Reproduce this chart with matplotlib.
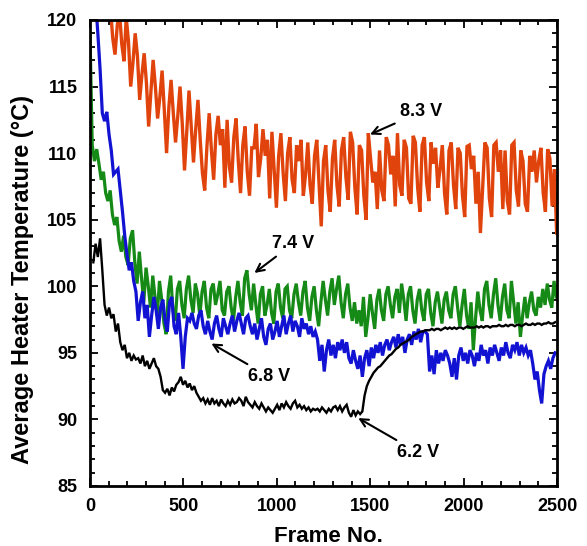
import numpy as np
import matplotlib
matplotlib.use("Agg")
import matplotlib.pyplot as plt
from matplotlib.ticker import MultipleLocator

plt.rcParams['font.family'] = ['Liberation Sans', 'DejaVu Sans']
plt.rcParams['font.weight'] = 'bold'

# Sampling interval (frames) shared by all recordings
STEP = 12

# 8.3 V run, first sample at frame 110
start_83 = 110
temp_83 = [
    120.8, 118.6, 117.4, 119.6, 120.6, 118.2, 116.9, 120.2,
    118.4, 115.0, 116.8, 119.0, 117.3, 114.0, 115.9, 117.5,
    115.3, 112.0, 114.6, 117.0, 115.0, 112.6, 114.2, 116.2,
    113.2, 110.0, 113.4, 115.5, 113.0, 110.8, 112.8, 115.0,
    112.2, 108.7, 111.6, 114.7, 112.0, 109.3, 111.8, 114.0,
    111.0, 108.5, 107.2, 110.5, 113.0, 110.2, 108.0, 111.4,
    112.8, 110.6, 111.8, 107.4, 112.5, 109.0, 107.8, 111.2,
    112.6, 109.4, 107.0, 110.6, 112.0, 108.6, 106.8, 110.4,
    110.4, 112.2, 108.2, 109.6, 111.8, 109.8, 111.0, 106.6,
    111.6, 108.8, 105.9, 109.8, 111.5, 108.5, 106.4, 110.0,
    111.2, 108.0, 107.0, 110.6, 109.4, 111.0, 106.8, 108.4,
    110.8, 107.6, 106.2, 109.8, 111.0, 107.8, 104.5, 109.4,
    110.6, 107.2, 105.6, 109.6, 111.0, 107.6, 106.0, 110.2,
    111.2, 108.2, 106.5, 111.6, 110.8, 107.4, 105.4, 110.6,
    110.2, 106.8, 105.0, 111.5, 109.6, 107.8, 108.6, 105.8,
    110.2, 107.2, 106.4, 111.2, 110.6, 108.4, 109.8, 106.0,
    111.5, 107.6, 106.8, 111.0, 110.4, 106.6, 106.2, 111.3,
    110.8, 107.4, 105.6, 110.6, 111.2, 107.8, 106.4, 110.8,
    109.2, 110.4, 107.4, 108.8, 110.6, 107.0, 105.4, 110.2,
    110.8, 107.6, 105.8, 110.4, 110.0, 106.8, 105.2, 110.5,
    110.6, 108.8, 109.8, 106.2, 108.6, 104.0, 107.4, 110.8,
    110.4, 106.6, 105.2, 110.6, 110.8, 108.6, 110.2, 105.8,
    110.2, 106.4, 105.4, 110.6, 110.8, 107.2, 106.0, 110.2,
    109.4, 106.2, 105.6, 109.8, 108.6, 110.2, 107.8, 109.4,
    110.4, 107.0, 105.6, 110.3, 109.6, 106.0, 108.8, 104.0,
]

# 7.4 V run, first sample at frame 0
start_74 = 0
temp_74 = [
    119.0, 110.6, 109.4, 110.3, 109.2, 108.0, 108.6, 107.0, 106.4, 107.2,
    105.4, 104.6, 105.2, 103.4, 102.6, 103.8, 102.2, 101.6, 103.6, 104.2,
    101.8, 100.2, 102.6, 100.6, 98.8, 101.4, 100.0, 98.4, 100.8, 99.2,
    97.8, 100.4, 99.0, 97.2, 96.4, 99.6, 100.8, 98.2, 97.4, 99.8,
    100.4, 98.6, 97.6, 99.8, 100.8, 99.0, 98.0, 100.2, 99.4, 97.8,
    99.6, 100.4, 98.4, 97.6, 99.8, 100.2, 98.6, 99.4, 100.4, 98.2,
    97.8, 99.6, 100.0, 98.4, 97.4, 99.2, 100.4, 98.8, 97.8, 100.6,
    101.2, 99.4, 98.2, 100.2, 98.6, 97.2, 99.4, 100.0, 97.8, 98.6,
    99.8, 98.0, 97.2, 99.6, 100.2, 98.4, 97.6, 99.8, 100.0, 98.2,
    97.6, 99.4, 100.2, 98.8, 97.8, 99.6, 100.4, 98.4, 97.4, 99.2,
    100.0, 98.2, 97.0, 98.8, 100.4, 99.0, 97.8, 99.6, 100.6, 98.6,
    99.8, 100.8, 98.8, 97.6, 99.4, 100.2, 98.4, 97.4, 98.8, 97.2,
    98.2, 97.0, 99.2, 96.2, 97.6, 99.4, 98.0, 96.8, 99.0, 99.8,
    98.2, 97.4, 99.4, 100.0, 98.6, 97.6, 99.2, 99.8, 98.0, 100.2,
    99.0, 97.4, 99.4, 100.0, 98.2, 97.2, 99.0, 99.8, 98.2, 97.4,
    99.4, 99.8, 98.0, 97.0, 98.8, 99.6, 98.4, 97.2, 99.0, 99.6,
    98.2, 97.6, 99.4, 100.0, 98.4, 97.0, 98.6, 99.8, 97.8, 96.8,
    98.8, 95.2, 97.6, 99.6, 98.2, 97.4, 99.8, 100.4, 98.6, 97.6,
    99.4, 100.6, 98.6, 97.4, 99.2, 100.2, 98.2, 97.6, 100.4, 98.8,
    97.2, 98.8, 96.2, 97.8, 99.2, 97.6, 98.8, 99.6, 98.2, 97.8,
    99.2, 98.4, 99.8, 98.6, 100.2, 99.0, 98.4, 100.4, 99.2,
]

# 6.8 V run, first sample at frame 30
start_68 = 30
temp_68 = [
    121.5, 119.0, 116.3, 113.0, 112.4, 113.1, 111.4, 110.2, 108.4, 108.6,
    108.8, 107.2, 105.6, 103.8, 102.4, 101.2, 101.8, 100.4, 99.6, 97.4,
    98.8, 99.6, 97.6, 98.6, 96.2, 97.8, 99.2, 98.2, 96.8, 98.4,
    99.0, 97.4, 96.6, 98.8, 99.2, 97.0, 96.4, 98.0, 96.2, 93.8,
    96.2, 97.6, 97.4, 98.0, 97.2, 96.8, 97.8, 98.2, 97.0, 96.4,
    97.4, 96.6, 96.0, 97.2, 97.8, 96.8, 96.2, 97.6, 97.0, 96.4,
    97.2, 97.8, 96.6, 97.4, 98.0, 97.2, 96.4, 97.6, 97.8, 97.0,
    96.4, 97.2, 96.0, 96.8, 97.6, 96.2, 95.6, 96.8, 97.2, 96.0,
    96.6, 97.4, 96.2, 97.0, 97.8, 96.4, 97.2, 97.8, 96.6, 97.4,
    97.0, 96.2, 97.6, 96.8, 97.2, 96.4, 97.0, 96.2, 96.6, 96.0,
    94.4, 95.6, 93.6, 95.2, 96.0, 94.8, 95.6, 94.6, 95.8, 95.2,
    96.0, 95.0, 95.8, 94.6, 94.2, 95.2, 94.4, 93.8, 94.8, 93.2,
    94.6, 95.2, 94.0, 95.4, 94.6, 95.6, 95.0, 95.8, 94.8, 95.6,
    96.0, 95.2, 95.8, 96.2, 95.4, 96.4, 95.6, 96.2, 95.0, 96.0,
    96.4, 95.6, 96.6, 96.0, 96.8, 95.8, 96.6, 96.6, 96.4, 93.6,
    94.8, 93.4, 95.2, 94.2, 95.0, 94.4, 95.2, 94.8, 94.2, 93.2,
    94.6, 93.0, 94.8, 95.4, 94.4, 95.0, 94.2, 95.2, 94.8, 94.0,
    95.0, 94.4, 95.6, 94.8, 95.2, 94.2, 95.4, 94.8, 95.6, 95.0,
    94.4, 95.4, 94.8, 95.8, 95.0, 94.6, 95.6, 95.2, 95.8, 94.8,
    95.6, 95.0, 95.4, 94.8, 95.2, 94.2, 93.0, 93.6, 92.2, 91.2,
    93.4, 94.0, 94.4, 93.8, 94.6, 95.0,
]

# 6.2 V run, first sample at frame 18
start_62 = 18
temp_62 = [
    101.8, 103.2, 102.2, 103.6, 101.2, 98.6, 97.8, 98.4, 97.6, 97.9,
    96.6, 97.2, 95.8, 95.2, 95.6, 94.6, 95.0, 94.4, 94.8, 94.5,
    94.6, 94.2, 94.8, 94.0, 94.4, 93.8, 94.2, 94.6, 94.0, 93.8,
    93.2, 92.2, 92.0, 92.3, 91.8, 92.4, 92.1, 92.6, 92.8, 93.2,
    92.6, 92.9, 92.4, 92.7, 92.2, 92.5, 92.0, 91.7, 91.4, 91.6,
    91.2, 91.5, 91.1, 91.6, 91.2, 91.4, 91.0, 91.5, 91.2, 91.0,
    91.4, 91.1, 91.5, 91.2, 91.3, 91.6, 91.4, 91.0, 91.7, 91.3,
    91.1, 90.9, 91.3, 91.0, 90.8, 91.2, 90.9, 90.6, 90.9, 90.7,
    90.5, 90.8, 91.1, 90.7, 91.2, 90.9, 91.3, 91.0, 90.8, 91.2,
    91.4, 90.9, 91.1, 90.8, 91.0, 90.7, 90.9, 90.6, 90.8, 90.7,
    90.8, 90.6, 90.9, 90.7, 90.5, 90.8, 90.6, 90.9, 91.0, 90.7,
    91.0, 90.6, 90.9, 91.1, 90.5, 90.2, 90.7, 90.3, 90.6, 90.4,
    90.6, 91.8, 92.5, 92.9, 93.2, 93.5, 93.7, 93.9, 94.0, 94.2,
    94.4, 94.6, 94.8, 94.9, 95.1, 95.3, 95.4, 95.6, 95.7, 95.8,
    95.9, 96.0, 96.2, 96.3, 96.4, 96.5, 96.6, 96.6, 96.7, 96.7,
    96.7, 96.8, 96.7, 96.8, 96.8, 96.7, 96.8, 96.9, 96.8, 96.9,
    96.8, 96.9, 96.8, 96.9, 96.9, 96.8, 96.9, 97.0, 96.9, 96.9,
    96.9, 97.0, 96.9, 97.0, 96.9, 97.0, 97.0, 96.9, 97.0, 97.0,
    97.0, 97.1, 97.0, 97.0, 97.1, 97.0, 97.1, 97.1, 97.0, 97.1,
    97.1, 97.0, 97.1, 97.2, 97.1, 97.1, 97.2, 97.1, 97.2, 97.2,
    97.1, 97.2, 97.2, 97.3, 97.2, 97.2, 97.3,
]

series = [
    (start_83, temp_83, '#E0440C', 2.4),
    (start_74, temp_74, '#168A16', 2.3),
    (start_68, temp_68, '#1212D2', 2.3),
    (start_62, temp_62, '#000000', 1.7),
]

# Voltage labels: text, arrow tip (frame, temp), text anchor (frame, temp)
labels = [
    ("8.3 V", (1499, 111.4), (1660, 113.1)),
    ("7.4 V", (880, 101.0), (975, 103.2)),
    ("6.8 V", (650, 95.7), (848, 93.2)),
    ("6.2 V", (1436, 90.1), (1645, 87.5)),
]

fig = plt.figure(figsize=(5.87, 5.46), dpi=100)
ax = fig.add_axes([0.1533, 0.1099, 0.7956, 0.8535])

for start, temps, color, lw in series:
    frames = start + STEP * np.arange(len(temps))
    ax.plot(frames, temps, color=color, lw=lw, solid_joinstyle='miter')

for text, tip, anchor in labels:
    ax.annotate(text, xy=tip, xytext=anchor, fontsize=13, fontweight='bold',
                ha='left', va='center',
                arrowprops=dict(arrowstyle='->', color='black', lw=1.5,
                                mutation_scale=14, shrinkA=2, shrinkB=0))

ax.set_xlim(0, 2500)
ax.set_ylim(85, 120)
ax.xaxis.set_major_locator(MultipleLocator(500))
ax.xaxis.set_minor_locator(MultipleLocator(100))
ax.yaxis.set_major_locator(MultipleLocator(5))
ax.yaxis.set_minor_locator(MultipleLocator(1))
ax.tick_params(which='both', direction='in', top=True, right=True,
               width=1.3, labelsize=13, pad=9)
ax.tick_params(which='major', length=6)
ax.tick_params(which='minor', length=3.5)
for lab in ax.get_xticklabels() + ax.get_yticklabels():
    lab.set_fontweight('bold')
for sp in ax.spines.values():
    sp.set_linewidth(2)

ax.set_xlabel('Frame No.', fontsize=16, fontweight='bold')
ax.set_ylabel('Average Heater Temperature (°C)', fontsize=17,
              fontweight='bold')
ax.xaxis.set_label_coords(0.51, -0.086)
ax.yaxis.set_label_coords(-0.12, 0.444)

fig.savefig('out.png', dpi=100)
